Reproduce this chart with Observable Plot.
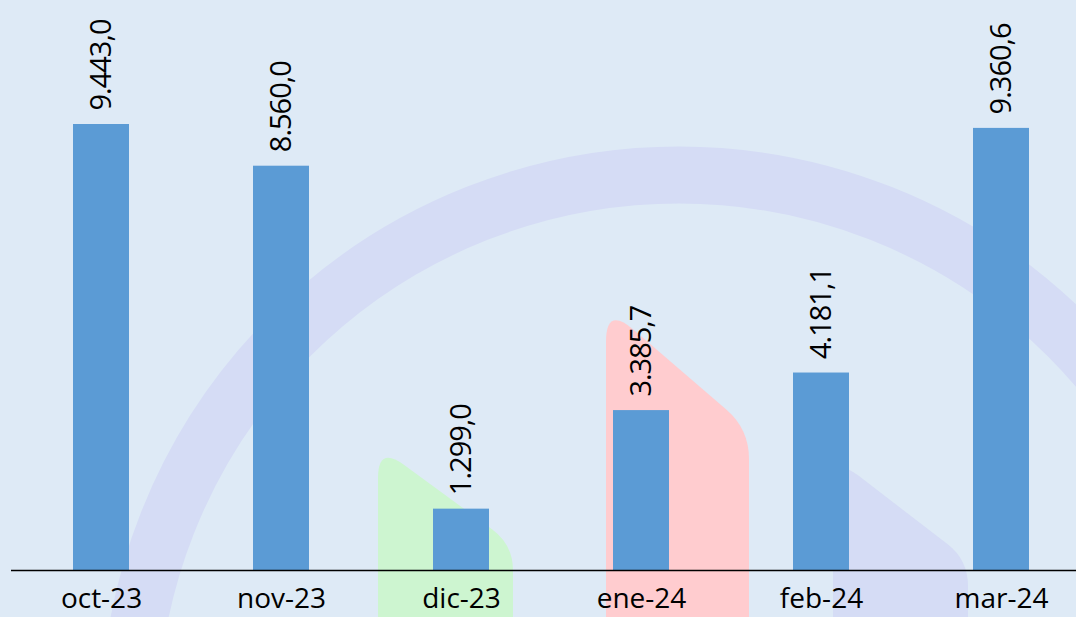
<!DOCTYPE html>
<html>
<head>
<meta charset="utf-8">
<script src="https://cdn.jsdelivr.net/npm/d3@7"></script>
<script src="https://cdn.jsdelivr.net/npm/@observablehq/plot@0.6"></script>
<style>
  html, body { margin: 0; padding: 0; overflow: hidden; }
  #wrap { position: relative; width: 1076px; height: 617px; background: #deeaf6; overflow: hidden; }
  #wrap > svg { position: absolute; left: 0; top: 0; }
</style>
</head>
<body>
<div id="wrap"></div>
<script>
// ---- data ----
const months = ["oct-23", "nov-23", "dic-23", "ene-24", "feb-24", "mar-24"];
const values = [9443.0, 8560.0, 1299.0, 3385.7, 4181.1, 9360.6];

const data = months.map((m, i) => ({ month: m, value: values[i] }));
const esFormat = d3.formatLocale({ decimal: ",", thousands: ".", grouping: [3], currency: ["", "€"] }).format(",.1f");

const W = 1076, H = 617;
const wrap = document.getElementById("wrap");

// ---- decorative background (not data) ----
const deco = d3.create("svg").attr("width", W).attr("height", H);
deco.append("circle")
  .attr("cx", 679).attr("cy", 725).attr("r", 550)
  .attr("fill", "none").attr("stroke", "#d5dcf5").attr("stroke-width", 57);

function tab(L, R, T0, slope, d1, d2) {
  const n = Math.hypot(1, slope), ux = 1 / n, uy = slope / n;
  const C0 = T0 + slope * (R - L);
  return `M${L},${H + 5} L${L},${T0 + d1} Q${L},${T0} ${L + ux * d1},${T0 + uy * d1} ` +
         `L${R - ux * d2},${C0 - uy * d2} Q${R},${C0} ${R},${C0 + d2} L${R},${H + 5} Z`;
}
deco.append("path").attr("d", tab(833, 968, 456, 0.77, 32, 26)).attr("fill", "#d5dcf5");
deco.append("path").attr("d", tab(378, 513, 446, 0.73, 32, 26)).attr("fill", "#cdf5d0");
deco.append("path").attr("d", tab(606, 749, 306, 0.86, 36, 30)).attr("fill", "#ffcccf");
wrap.appendChild(deco.node());

// ---- chart ----
const chart = Plot.plot({
  width: W,
  height: H,
  marginLeft: 11,
  marginRight: 0,
  marginTop: 0,
  marginBottom: 47,
  style: { background: "transparent", fontFamily: "'Open Sans', sans-serif", fontSize: "28px", color: "#000", overflow: "visible" },
  x: { domain: months, range: [11, 1091], paddingInner: 0.689, paddingOuter: 0.3445, align: 0.5, label: null, tickSize: 0, tickPadding: 18 },
  y: { domain: [0, 9443], range: [570, 124], axis: null },
  marks: [
    Plot.barY(data, { x: "month", y: "value", fill: "#5b9bd5" }),
    Plot.ruleY([0], { stroke: "#000", strokeWidth: 1.6 }),
    Plot.text(data, {
      x: "month", y: "value", text: d => esFormat(d.value),
      rotate: -90, textAnchor: "start", lineAnchor: "middle", dy: -14,
      fontSize: 29, fill: "#000"
    })
  ]
});
wrap.appendChild(chart);
d3.select(chart).selectAll('g[aria-label="text"] text').style("letter-spacing", "-1px");
</script>
</body>
</html>
